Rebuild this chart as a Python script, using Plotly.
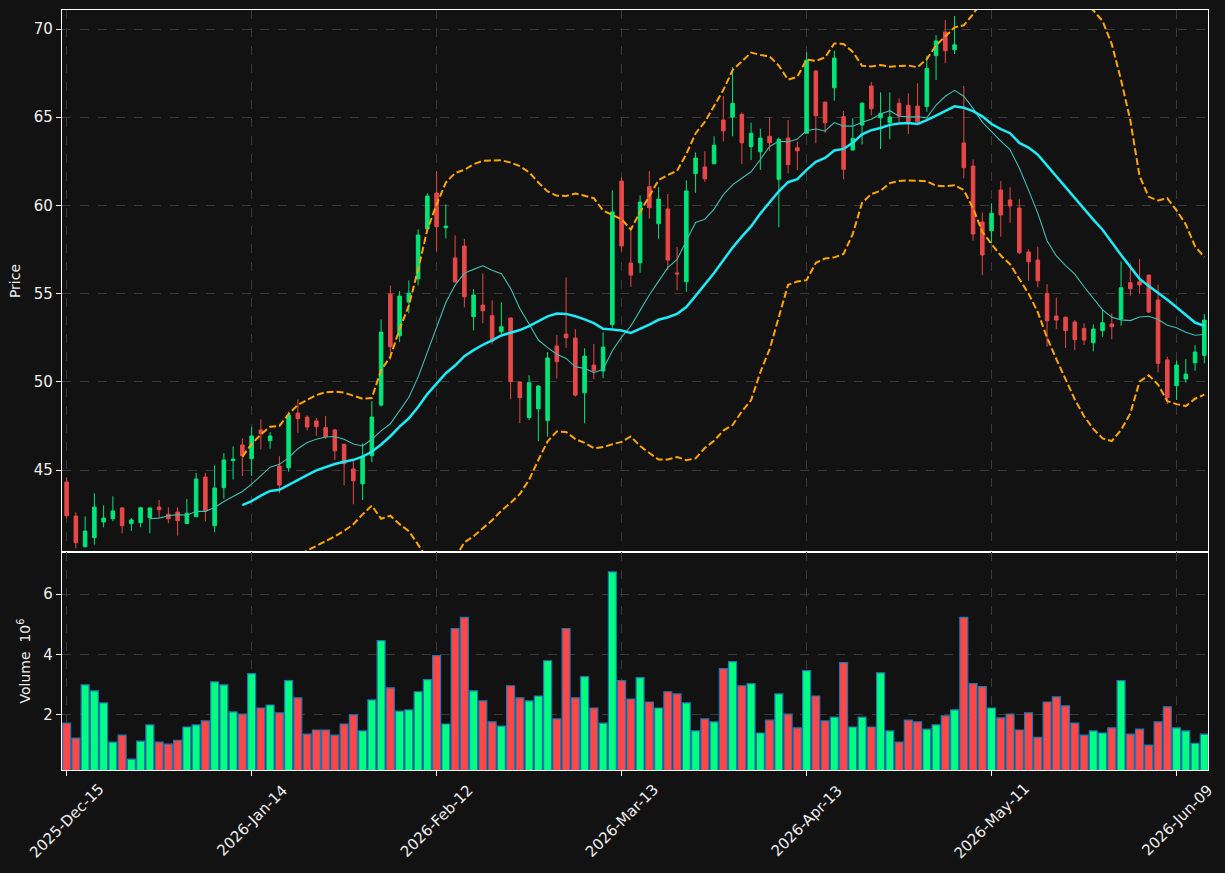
import plotly.graph_objects as go
from plotly.subplots import make_subplots
import pandas as pd

# ---- data ----
open_ = [44.32, 42.39, 40.65, 41.16, 42.05, 42.24, 42.85, 41.96, 42.01, 42.30,
         42.90, 42.49, 42.62, 41.96, 42.35, 44.60, 41.84, 44.00, 45.53, 46.42,
         45.64, 47.27, 46.66, 45.23, 45.13, 48.23, 48.00, 47.78, 47.40, 47.27,
         46.46, 45.06, 44.22, 45.81, 48.68, 54.98, 52.61, 54.52, 55.84, 58.68,
         60.70, 58.74, 57.02, 57.70, 53.69, 54.35, 53.75, 52.84, 53.62, 49.99,
         47.97, 48.47, 47.80, 52.03, 52.71, 52.48, 49.38, 50.95, 50.61, 53.24,
         61.38, 56.73, 56.75, 61.06, 58.96, 59.80, 56.17, 55.67, 61.80, 62.18,
         62.36, 64.84, 65.01, 65.16, 63.33, 63.04, 63.92, 61.48, 63.82, 63.27,
         64.09, 67.62, 65.86, 66.67, 65.03, 63.14, 64.56, 66.77, 64.97, 64.69,
         65.79, 65.67, 65.63, 65.60, 68.49, 69.83, 68.83, 63.54, 62.23, 59.06,
         58.57, 60.87, 60.31, 59.85, 57.36, 56.90, 55.02, 53.73, 53.66, 53.39,
         53.03, 52.22, 52.90, 53.28, 53.56, 55.62, 55.67, 56.05, 54.64, 51.24,
         49.78, 50.16, 51.08, 51.50]
high = [44.59, 42.60, 42.38, 43.68, 43.00, 43.51, 42.89, 42.28, 42.90, 42.87,
        43.30, 42.89, 42.89, 43.36, 44.83, 44.83, 45.27, 45.96, 46.34, 46.80,
        47.45, 47.87, 47.15, 45.79, 48.31, 49.00, 48.10, 47.95, 48.06, 47.34,
        46.46, 45.57, 46.51, 48.91, 53.54, 55.45, 55.15, 55.75, 58.64, 60.69,
        61.95, 60.06, 58.30, 58.10, 55.26, 56.15, 54.62, 54.51, 53.62, 49.99,
        50.37, 49.80, 51.69, 52.65, 55.92, 52.98, 51.90, 52.14, 52.81, 60.86,
        61.59, 58.57, 60.57, 61.95, 61.04, 60.65, 57.64, 61.42, 63.01, 63.07,
        63.92, 66.20, 67.85, 65.28, 64.69, 64.35, 64.99, 63.86, 64.84, 63.61,
        68.68, 67.68, 65.86, 68.77, 65.35, 64.94, 65.86, 67.00, 66.41, 66.41,
        66.07, 66.35, 66.92, 68.49, 69.66, 70.51, 70.74, 66.77, 62.61, 59.60,
        60.12, 61.38, 61.03, 60.35, 57.51, 57.66, 55.53, 54.77, 53.70, 53.49,
        53.32, 53.26, 54.14, 53.88, 56.83, 56.72, 56.96, 56.09, 55.50, 51.42,
        51.20, 51.28, 52.07, 53.84]
low = [42.27, 40.56, 40.62, 40.77, 41.75, 42.09, 41.41, 41.54, 41.75, 41.41,
       42.32, 41.98, 41.28, 41.96, 42.35, 42.09, 41.47, 43.37, 44.47, 44.66,
       44.66, 46.17, 46.21, 43.68, 44.90, 47.11, 47.25, 46.94, 46.76, 45.57,
       44.13, 43.06, 43.30, 45.44, 48.59, 51.24, 52.24, 53.88, 55.47, 58.64,
       57.41, 58.13, 55.60, 54.22, 52.92, 53.32, 52.13, 52.71, 49.01, 47.65,
       47.83, 46.64, 46.89, 50.18, 51.93, 49.16, 47.65, 50.14, 50.20, 53.07,
       57.40, 55.39, 56.18, 59.25, 58.11, 56.34, 55.20, 55.11, 60.72, 61.34,
       62.36, 63.63, 63.92, 62.35, 62.57, 62.01, 63.08, 58.76, 61.82, 62.01,
       64.09, 63.52, 64.12, 65.94, 61.48, 63.14, 63.46, 65.11, 63.20, 63.75,
       64.69, 64.05, 64.60, 65.31, 67.11, 68.06, 68.58, 61.54, 58.00, 56.05,
       57.85, 58.23, 59.02, 57.25, 55.73, 55.36, 51.99, 52.98, 51.93, 51.80,
       52.09, 51.73, 52.56, 52.41, 53.18, 54.88, 54.98, 53.90, 50.54, 48.74,
       48.97, 49.95, 50.63, 51.05]
close = [42.41, 40.88, 41.54, 42.90, 42.28, 42.68, 41.84, 42.17, 42.86, 42.85,
         42.75, 42.24, 42.13, 42.55, 44.49, 42.68, 43.98, 45.57, 45.62, 45.81,
         46.93, 47.06, 46.93, 44.15, 48.12, 47.91, 47.44, 47.46, 46.89, 46.09,
         45.36, 44.39, 45.79, 48.00, 52.82, 51.99, 54.86, 55.02, 58.32, 60.53,
         58.79, 58.83, 55.67, 54.82, 54.92, 54.03, 52.31, 53.12, 50.01, 49.10,
         49.95, 49.76, 51.35, 51.14, 52.50, 49.25, 51.46, 50.61, 51.97, 59.63,
         57.70, 56.05, 60.19, 59.87, 60.36, 56.90, 56.12, 60.82, 62.69, 61.51,
         63.41, 64.23, 65.79, 63.55, 64.09, 63.82, 63.55, 63.75, 62.31, 63.10,
         68.24, 65.09, 64.69, 68.36, 62.05, 63.80, 65.79, 65.48, 65.22, 65.01,
         65.07, 64.74, 64.74, 67.77, 69.32, 68.77, 69.11, 62.14, 58.38, 57.19,
         59.55, 59.46, 59.97, 57.32, 56.81, 55.73, 53.46, 53.50, 52.90, 52.39,
         52.37, 52.99, 53.35, 53.12, 55.33, 55.28, 55.49, 53.96, 51.05, 49.10,
         50.95, 50.44, 51.69, 53.50]
volume_m = [1.72, 1.22, 2.99, 2.79, 2.39, 1.09, 1.32, 0.52, 1.12, 1.66,
            1.09, 1.02, 1.15, 1.59, 1.66, 1.79, 3.09, 2.99, 2.09, 2.02,
            3.36, 2.22, 2.32, 2.06, 3.13, 2.56, 1.35, 1.49, 1.49, 1.32,
            1.69, 1.99, 1.46, 2.49, 4.46, 2.89, 2.12, 2.16, 2.76, 3.16,
            3.96, 1.69, 4.86, 5.23, 2.79, 2.46, 1.76, 1.62, 2.96, 2.56,
            2.46, 2.62, 3.79, 1.86, 4.86, 2.56, 3.26, 2.22, 1.72, 6.74,
            3.13, 2.52, 3.23, 2.42, 2.22, 2.76, 2.69, 2.39, 1.46, 1.86,
            1.76, 3.53, 3.76, 2.96, 3.03, 1.39, 1.82, 2.69, 2.02, 1.56,
            3.46, 2.62, 1.79, 1.92, 3.73, 1.59, 1.92, 1.59, 3.39, 1.46,
            1.09, 1.82, 1.76, 1.52, 1.66, 1.96, 2.16, 5.23, 3.03, 2.93,
            2.22, 1.89, 2.02, 1.49, 2.06, 1.25, 2.42, 2.59, 2.29, 1.72,
            1.32, 1.46, 1.39, 1.56, 3.13, 1.35, 1.52, 0.99, 1.76, 2.26,
            1.56, 1.46, 1.05, 1.35]
tick_positions = [0, 20, 40, 60, 80, 100, 120]
tick_labels = ["2025-Dec-15", "2026-Jan-14", "2026-Feb-12", "2026-Mar-13",
               "2026-Apr-13", "2026-May-11", "2026-Jun-09"]

# ---- indicators derived from the closes ----
x = list(range(len(close)))
s = pd.Series(close)
ma10 = s.rolling(10).mean()
ma20 = s.rolling(20).mean()
sd20 = s.rolling(20).std()
bb_up = ma20 + 2 * sd20
bb_lo = ma20 - 2 * sd20

UP_C = "#00e57a"
DN_C = "#e84848"
VUP_C = "#00ff80"
VDN_C = "#ff4747"
BG = "#121212"
GRID = "#3a3a3a"
TXT = "#eeeeee"
FONT = "DejaVu Sans"

vol_colors = [VUP_C if c >= o else VDN_C for o, c in zip(open_, close)]

fig = make_subplots(rows=2, cols=1, shared_xaxes=True, vertical_spacing=0,
                    row_heights=[0.7132, 0.2868])

fig.add_trace(go.Candlestick(
    x=x, open=open_, high=high, low=low, close=close,
    increasing=dict(line=dict(color=UP_C, width=1), fillcolor=UP_C),
    decreasing=dict(line=dict(color=DN_C, width=1), fillcolor=DN_C),
    whiskerwidth=0, showlegend=False, hoverinfo="skip"), row=1, col=1)

fig.add_trace(go.Scatter(x=x, y=ma10, mode="lines",
                         line=dict(color="#3fbfb0", width=1.1),
                         showlegend=False, hoverinfo="skip"), row=1, col=1)
fig.add_trace(go.Scatter(x=x, y=ma20, mode="lines",
                         line=dict(color="#1eeaf8", width=2.5),
                         showlegend=False, hoverinfo="skip"), row=1, col=1)
fig.add_trace(go.Scatter(x=x, y=bb_up, mode="lines",
                         line=dict(color="#ffa500", width=2, dash="7px,3px"),
                         showlegend=False, hoverinfo="skip"), row=1, col=1)
fig.add_trace(go.Scatter(x=x, y=bb_lo, mode="lines",
                         line=dict(color="#ffa500", width=2, dash="7px,3px"),
                         showlegend=False, hoverinfo="skip"), row=1, col=1)

fig.add_trace(go.Bar(x=x, y=volume_m, width=0.86,
                     marker=dict(color=vol_colors,
                                 line=dict(color="#1f77b4", width=1.2)),
                     showlegend=False, hoverinfo="skip"), row=2, col=1)

axis_common = dict(showline=True, linecolor="#ffffff", linewidth=1.2, mirror=True,
                   showgrid=True, gridcolor=GRID, griddash="dash", gridwidth=1,
                   zeroline=False, ticks="outside", ticklen=5, tickwidth=1,
                   tickcolor="#ffffff",
                   tickfont=dict(family=FONT, size=15, color=TXT))

fig.update_xaxes(**axis_common)
fig.update_yaxes(**axis_common)

fig.update_xaxes(range=[-0.5, 123.4], tickvals=tick_positions,
                 ticktext=tick_labels, showticklabels=False,
                 rangeslider_visible=False)

fig.update_yaxes(range=[40.35, 71.08], tickvals=[45, 50, 55, 60, 65, 70],
                 title=dict(text="Price", standoff=9,
                            font=dict(family=FONT, size=14, color=TXT)),
                 row=1, col=1)
fig.update_yaxes(range=[0.162, 7.40], tickvals=[2, 4, 6],
                 title=dict(text="Volume\u00a0\u00a010<sup>6</sup>", standoff=9,
                            font=dict(family=FONT, size=14, color=TXT)),
                 row=2, col=1)

# date labels, rotated 45 degrees and centred on their ticks
for pos, lab in zip(tick_positions, tick_labels):
    fig.add_annotation(x=pos, xref="x2", y=-0.0665, yref="paper",
                       text=lab, textangle=-45, showarrow=False,
                       xanchor="center", yanchor="middle",
                       font=dict(family=FONT, size=15, color=TXT))

fig.update_layout(
    width=1225, height=873, autosize=False,
    margin=dict(l=62, r=17, t=10, b=103),
    paper_bgcolor=BG, plot_bgcolor=BG,
    font=dict(family=FONT, size=14, color=TXT),
    boxgap=0.45, bargap=0.1, showlegend=False,
)

fig.write_html("out.html")
